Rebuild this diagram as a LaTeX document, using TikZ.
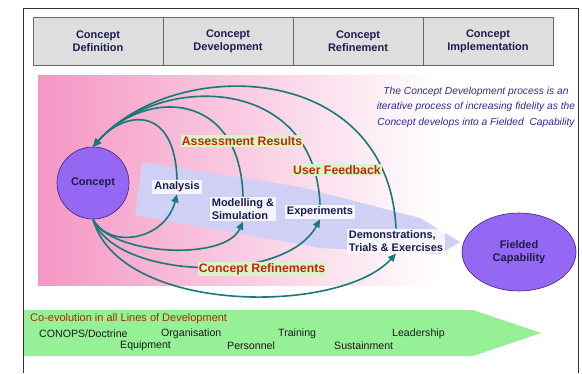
\documentclass[tikz,border=0pt]{standalone}
\usepackage{fontspec}
\setmainfont{Liberation Sans}
\usetikzlibrary{arrows.meta,shapes.geometric}
\definecolor{tealarc}{RGB}{25,120,120}
\definecolor{navytxt}{RGB}{28,28,80}
\definecolor{redtxt}{RGB}{195,40,10}
\definecolor{brntxt}{RGB}{170,40,0}
\definecolor{lblgreen}{RGB}{215,245,200}
\definecolor{bandgreen}{RGB}{150,240,150}
\definecolor{hdrfill}{RGB}{222,222,222}
\definecolor{hdrline}{RGB}{105,105,105}
\definecolor{pinkL}{RGB}{244,150,196}
\definecolor{pinkM}{RGB}{250,205,225}
\definecolor{lav}{RGB}{208,208,246}
\definecolor{purp}{RGB}{148,104,242}
\definecolor{purpline}{RGB}{70,30,120}
\definecolor{itblue}{RGB}{45,45,140}
\begin{document}
\begin{tikzpicture}[x=1bp,y=-1bp,
  hdr/.style={draw=hdrline, fill=hdrfill, line width=0.8bp, minimum width=130bp, minimum height=48bp,
    font=\fontsize{11bp}{12.7bp}\selectfont\bfseries, text=navytxt, align=center, inner sep=0pt},
  act/.style={fill=white, fill opacity=0.8, text opacity=1, font=\fontsize{11bp}{12.7bp}\selectfont\bfseries,
    text=navytxt, inner sep=2bp, align=left},
  fb/.style={fill=lblgreen, text=redtxt, font=\fontsize{12.3bp}{14bp}\selectfont\bfseries, inner sep=1.2bp},
  arc/.style={draw=tealarc, line width=1.6bp, -{Triangle[length=8bp,width=7bp]}},
  blob/.style={draw=purpline, line width=0.6bp, fill=purp, font=\fontsize{11bp}{13bp}\selectfont\bfseries,
    text=navytxt, align=center, inner sep=0pt},
  lod/.style={font=\fontsize{10.6bp}{12bp}\selectfont, anchor=west, inner sep=0pt, text=black!90}
]
\useasboundingbox (0,0) rectangle (582,373);
\fill[white] (0,0) rectangle (582,373);

% outer frame
\draw[black!80, line width=0.8bp] (23,373) -- (23,8) -- (578,8) -- (578,373);

% header
\node[hdr] (h1) at (98,41) {Concept\\Definition};
\node[hdr] (h2) at (228,41) {Concept\\Development};
\node[hdr] (h3) at (358,41) {Concept\\Refinement};
\node[hdr] (h4) at (488,41) {Concept\\Implementation};

% pink background
\shade[left color=pinkL, middle color=pinkM, right color=white] (38,75) rectangle (440,285);

% lavender wedge
\fill[lav] (142,162) -- (300,187) -- (420,218) -- (460,242) -- (440,254) -- (320,248) -- (135,215) -- cycle;

% explanatory text
\node[font=\fontsize{10.25bp}{15.6bp}\selectfont\itshape, text=itblue, align=center, inner sep=0pt] (note) at (476,107)
  {The Concept Development process is an\\iterative process of increasing fidelity as the\\Concept develops into a Fielded\ \ Capability};

% main nodes
\node[blob, circle, minimum size=72bp] (conc) at (93,183) {Concept};
\node[blob, ellipse, minimum width=114bp, minimum height=78bp] (fc) at (519,252) {Fielded\\Capability};

\node[act] (ana) at (177,187) {Analysis};
\node[act] (mod) at (243,209) {Modelling \&\\Simulation};
\node[act] (exp) at (320,212) {Experiments};
\node[act] (dem) at (396,241) {Demonstrations,\\Trials \& Exercises};

% feedback arcs
\draw[arc] (ana.north) .. controls (175,105) and (125,110) .. (conc.north);
\draw[arc] (mod.north) .. controls (240,90) and (145,88) .. (conc.north);
\draw[arc] (exp.north) .. controls (315,75) and (160,72) .. (conc.north);
\draw[arc] (dem.north) .. controls (388,60) and (175,55) .. (conc.north);

% forward arcs
\draw[arc] (conc.south) .. controls (110,250) and (165,240) .. (ana.south);
\draw[arc] (conc.south) .. controls (110,255) and (225,262) .. (mod.south);
\draw[arc] (conc.south) .. controls (115,280) and (285,285) .. (exp.south);
\draw[arc] (conc.south) .. controls (120,315) and (340,315) .. (dem.south);

% arc labels
\node[fb] (ar) at (242,141) {Assessment Results};
\node[fb] (uf) at (337,170) {User Feedback};
\node[fb] (cr) at (262,269) {Concept Refinements};

% lines of development band
\fill[bandgreen] (24,310) -- (473,310) -- (541,333) -- (473,356) -- (24,356) -- cycle;
\node[lod, text=brntxt, font=\fontsize{11bp}{12bp}\selectfont] (coev) at (30,319) {Co-evolution in all Lines of Development};
\node[lod] (l1) at (39,334) {CONOPS/Doctrine};
\node[lod] (l2) at (161,334) {Organisation};
\node[lod] (l3) at (278,334) {Training};
\node[lod] (l4) at (392,334) {Leadership};
\node[lod] (l5) at (120,346) {Equipment};
\node[lod] (l6) at (227,346) {Personnel};
\node[lod] (l7) at (334,346) {Sustainment};
\end{tikzpicture}
\end{document}
